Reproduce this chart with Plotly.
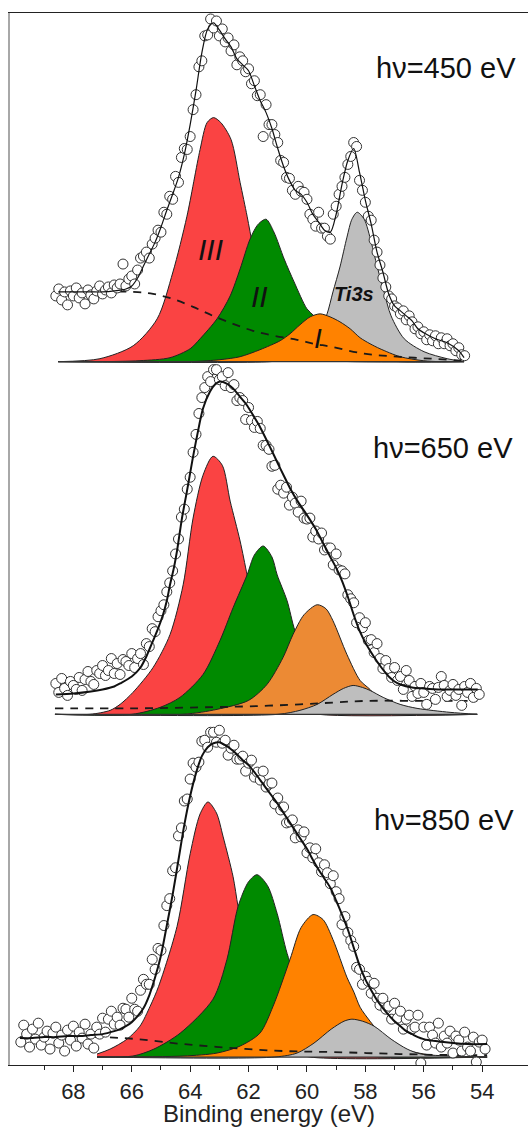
import plotly.graph_objects as go

FONT = "Arial, 'Liberation Sans', Helvetica, sans-serif"

# ---------------- Panel 1 : hv = 450 eV (intensity, a.u.) ----------------
E1 = [68.6, 68.5, 68.4, 68.3, 68.2, 68.1, 68.0, 67.9, 67.8, 67.7, 67.6, 67.5, 67.4, 67.3, 67.2, 67.1, 67.0,
      66.9, 66.8, 66.7, 66.6, 66.5, 66.4, 66.3, 66.2, 66.1, 66.0, 65.9, 65.8, 65.7, 65.6, 65.5, 65.4, 65.3,
      65.2, 65.1, 65.0, 64.9, 64.8, 64.7, 64.6, 64.5, 64.4, 64.3, 64.2, 64.1, 64.0, 63.9, 63.8, 63.7, 63.6,
      63.5, 63.4, 63.3, 63.2, 63.1, 63.0, 62.9, 62.8, 62.7, 62.6, 62.5, 62.4, 62.3, 62.2, 62.1, 62.0, 61.9,
      61.8, 61.7, 61.6, 61.5, 61.4, 61.3, 61.2, 61.1, 61.0, 60.9, 60.8, 60.7, 60.6, 60.5, 60.4, 60.3, 60.2,
      60.1, 60.0, 59.9, 59.8, 59.7, 59.6, 59.5, 59.4, 59.3, 59.2, 59.1, 59.0, 58.9, 58.8, 58.7, 58.6, 58.5,
      58.4, 58.3, 58.2, 58.1, 58.0, 57.9, 57.8, 57.7, 57.6, 57.5, 57.4, 57.3, 57.2, 57.1, 57.0, 56.9, 56.8,
      56.7, 56.6, 56.5, 56.4, 56.3, 56.2, 56.1, 56.0, 55.9, 55.8, 55.7, 55.6, 55.5, 55.4, 55.3, 55.2, 55.1,
      55.0, 54.9, 54.8, 54.7, 54.6]
I1 = [66, 73, 62, 70, 57, 71, 66, 74, 64, 69, 58, 72, 67, 63, 71, 76, 68,
      72, 75, 69, 77, 74, 78, 98, 76, 83, 86, 78, 92, 104, 106, 110, 104, 118,
      124, 132, 130, 150, 148, 166, 163, 186, 180, 205, 214, 213, 226, 253, 268, 296, 302,
      327, 328, 344, 335, 342, 327, 334, 321, 325, 312, 318, 298, 306, 302, 291, 294, 279,
      282, 267, 268, 226, 258, 238, 238, 228, 220, 202, 200, 185, 184, 172, 168, 176, 171,
      170, 163, 148, 143, 136, 150, 134, 134, 126, 123, 148, 156, 168, 176, 185, 198, 206,
      220, 216, 182, 172, 160, 146, 142, 122, 110, 97, 84, 75, 66, 63, 56, 54, 48,
      51, 42, 46, 40, 33, 35, 28, 30, 22, 27, 21, 26, 18, 24, 18, 23, 16,
      18, 11, 14, 7, 6]
FIT1_E = [68.52, 68.2, 67.8, 67.4, 67.0, 66.6, 66.2, 66.0, 65.8, 65.6, 65.4, 65.2, 65.0, 64.8, 64.6, 64.4,
          64.2, 64.0, 63.8, 63.6, 63.4, 63.2, 63.0, 62.8, 62.6, 62.4, 62.2, 62.0, 61.8, 61.6, 61.4, 61.2,
          61.0, 60.8, 60.6, 60.4, 60.2, 60.0, 59.8, 59.6, 59.4, 59.2, 59.0, 58.8, 58.6, 58.4, 58.2, 58.0,
          57.8, 57.6, 57.4, 57.2, 57.0, 56.8, 56.6, 56.4, 56.2, 56.0, 55.6, 55.2, 54.8, 54.62]
FIT1_I = [70, 70, 70, 70, 70, 71, 73, 76, 84, 96, 108, 120, 135, 152, 168, 185,
          208, 238, 272, 310, 334, 340, 333, 324, 316, 304, 298, 292, 277, 262, 250, 234,
          214, 196, 182, 172, 168, 160, 148, 140, 132, 130, 148, 178, 202, 214, 190, 162,
          138, 110, 90, 68, 56, 51, 46, 41, 33, 29, 23, 19, 11, 4]
BG1_E = [68.52, 65.96, 65.27, 64.59, 63.9, 63.22, 62.53, 61.85, 61.13, 60.34, 59.76, 59.17, 58.04, 56.91, 55.75, 54.62]
BG1_I = [70, 70, 68, 63, 55, 46, 38, 31, 26, 22, 18, 15, 8, 5, 3, 1]
RED1_E = [68.52, 67.09, 65.95, 65.13, 64.59, 64.11, 63.66, 63.42, 63.2, 62.95, 62.6, 62.29, 62.05, 61.85, 61.61,
          61.16, 60.58, 59.9, 58.9, 54.62]
RED1_I = [0, 3, 16, 43, 90, 146, 213, 240, 245, 240, 223, 180, 146, 115, 82, 38, 14, 4, 0.5, 0]
GREEN1_E = [68.52, 67.09, 65.72, 64.69, 64.0, 63.66, 63.08, 62.63, 62.29, 61.95, 61.67, 61.4, 61.13, 60.78,
            60.44, 60.0, 59.76, 59.21, 58.52, 57.84, 56.81, 54.62]
GREEN1_I = [0, 0, 1, 4, 13, 23, 43, 66, 93, 123, 138, 143, 130, 103, 80, 53, 46, 25, 10, 3, 0, 0]
ORANGE1_E = [68.52, 64.0, 62.98, 62.29, 61.61, 60.92, 60.58, 60.24, 59.89, 59.55, 59.21, 58.87, 58.52, 58.18,
             57.84, 57.5, 56.81, 56.02, 55.44, 54.62]
ORANGE1_I = [0, 0, 2, 5, 12, 21, 28, 37, 45, 48, 45, 40, 33, 24, 18, 13, 5, 1, 0, 0]
GRAY1_E = [68.52, 61.27, 60.75, 60.24, 59.89, 59.55, 59.31, 59.11, 58.87, 58.63, 58.46, 58.28, 58.04, 57.8,
           57.6, 57.36, 57.12, 56.67, 55.99, 55.2, 54.62]
GRAY1_I = [0, 0, 2, 7, 16, 32, 48, 70, 95, 125, 143, 150, 143, 120, 96, 70, 46, 23, 10, 3, 0]

# ---------------- Panel 2 : hv = 650 eV ----------------
E2 = [68.6, 68.5, 68.4, 68.3, 68.2, 68.1, 68.0, 67.9, 67.8, 67.7, 67.6, 67.5, 67.4, 67.3, 67.2, 67.1, 67.0,
      66.9, 66.8, 66.7, 66.6, 66.5, 66.4, 66.3, 66.2, 66.1, 66.0, 65.9, 65.8, 65.7, 65.6, 65.5, 65.4, 65.3,
      65.2, 65.1, 65.0, 64.9, 64.8, 64.7, 64.6, 64.5, 64.4, 64.3, 64.2, 64.1, 64.0, 63.9, 63.8, 63.7, 63.6,
      63.5, 63.4, 63.3, 63.2, 63.1, 63.0, 62.9, 62.8, 62.7, 62.6, 62.5, 62.4, 62.3, 62.2, 62.1, 62.0, 61.9,
      61.8, 61.7, 61.6, 61.5, 61.4, 61.3, 61.2, 61.1, 61.0, 60.9, 60.8, 60.7, 60.6, 60.5, 60.4, 60.3, 60.2,
      60.1, 60.0, 59.9, 59.8, 59.7, 59.6, 59.5, 59.4, 59.3, 59.2, 59.1, 59.0, 58.9, 58.8, 58.7, 58.6, 58.5,
      58.4, 58.3, 58.2, 58.1, 58.0, 57.9, 57.8, 57.7, 57.6, 57.5, 57.4, 57.3, 57.2, 57.1, 57.0, 56.9, 56.8,
      56.7, 56.6, 56.5, 56.4, 56.3, 56.2, 56.1, 56.0, 55.9, 55.8, 55.7, 55.6, 55.5, 55.4, 55.3, 55.2, 55.1,
      55.0, 54.9, 54.8, 54.7, 54.6, 54.5, 54.4, 54.3, 54.2, 54.1]
I2 = [31, 22, 36, 26, 19, 33, 29, 25, 37, 24, 35, 43, 33, 30, 44, 41, 49,
      39, 44, 56, 41, 51, 40, 55, 53, 49, 61, 47, 56, 61, 50, 71, 68, 86,
      83, 98, 104, 110, 123, 132, 144, 161, 176, 198, 206, 226, 238, 263, 281, 302, 318,
      328, 339, 334, 346, 346, 336, 339, 330, 343, 328, 331, 315, 318, 315, 296, 308, 295,
      288, 294, 287, 270, 270, 266, 249, 250, 226, 230, 222, 228, 210, 218, 212, 203, 214,
      197, 196, 197, 178, 184, 176, 182, 165, 167, 167, 150, 161, 145, 144, 141, 120, 116,
      112, 92, 97, 87, 92, 74, 75, 62, 71, 56, 46, 54, 46, 37, 47, 34, 38,
      25, 44, 34, 18, 28, 21, 31, 22, 10, 28, 26, 15, 27, 38, 29, 18, 24,
      30, 19, 25, 9, 28, 22, 31, 17, 26, 20]
FIT2_E = [68.6, 68.0, 67.4, 67.0, 66.6, 66.4, 66.0, 65.7, 65.5, 65.27, 65.1, 64.93, 64.8, 64.69, 64.55,
          64.45, 64.28, 64.11, 63.93, 63.76, 63.56, 63.32, 63.15, 62.98, 62.75, 62.53, 62.3, 62.05, 61.8,
          61.6, 61.26, 61.0, 60.8, 60.58, 60.3, 60.0, 59.7, 59.45, 59.2, 59.0, 58.8, 58.6, 58.4, 58.2,
          58.0, 57.8, 57.6, 57.4, 57.2, 57.0, 56.8, 56.4, 56.0, 55.4, 54.8, 54.15]
FIT2_I = [20, 21, 23, 25, 28, 31, 38, 47, 58, 74, 86, 100, 114, 130, 148,
          164, 197, 224, 254, 280, 307, 324, 331, 334, 332, 327, 319, 310, 298,
          288, 268, 252, 240, 227, 213, 200, 186, 172, 158, 147, 134, 118, 100, 84,
          72, 62, 53, 45, 38, 33, 30, 27, 26, 25, 25, 25]
BG2_E = [68.63, 66.0, 63.66, 62.0, 60.24, 59.0, 57.94, 56.0, 54.17]
BG2_I = [6, 6, 7, 8, 10, 12, 13.5, 13.5, 13.5]
RED2_E = [68.63, 67.43, 66.74, 66.4, 65.96, 65.27, 64.69, 64.24, 63.9, 63.56, 63.22, 62.9, 62.63, 62.29,
          62.05, 61.8, 61.5, 61.0, 60.4, 59.6, 54.17]
RED2_I = [0, 0, 4, 10, 22, 47, 80, 130, 197, 240, 259, 250, 214, 174, 140, 105, 65, 25, 6, 0, 0]
GREEN2_E = [68.63, 66.0, 65.03, 64.35, 63.56, 62.98, 62.53, 62.05, 61.8, 61.5, 61.2, 61.02, 60.68, 60.41,
            60.0, 59.5, 58.87, 57.84, 56.81, 54.17]
GREEN2_I = [0, 0, 7, 17, 40, 74, 107, 140, 160, 169, 158, 140, 114, 84, 58, 30, 10, 2, 0, 0]
ORANGE2_E = [68.63, 64.24, 63.08, 62.0, 61.37, 60.82, 60.48, 60.1, 59.65, 59.35, 59.11, 58.63, 58.18, 57.84,
             57.39, 56.81, 56.23, 54.17]
ORANGE2_I = [0, 0, 5, 14, 30, 57, 80, 100, 110, 106, 94, 60, 34, 25, 10, 4, 0, 0]
GRAY2_E = [68.63, 61.0, 60.24, 59.65, 59.11, 58.75, 58.42, 58.1, 57.84, 57.39, 56.81, 56.23, 55.1, 54.17]
GRAY2_I = [0, 0, 4, 10, 20, 26, 29, 27, 24, 17, 10, 6, 2, 0]

# ---------------- Panel 3 : hv = 850 eV ----------------
E3 = [69.8, 69.7, 69.6, 69.5, 69.4, 69.3, 69.2, 69.1, 69.0, 68.9, 68.8, 68.7, 68.6, 68.5, 68.4, 68.3, 68.2,
      68.1, 68.0, 67.9, 67.8, 67.7, 67.6, 67.5, 67.4, 67.3,
      67.2, 67.1, 67.0, 66.9, 66.8, 66.7, 66.6, 66.5, 66.4, 66.3, 66.2, 66.1, 66.0, 65.9, 65.8, 65.7, 65.6,
      65.5, 65.4, 65.3,
      65.2, 65.1, 65.0, 64.9, 64.8, 64.7, 64.6, 64.5, 64.4, 64.3, 64.2, 64.1, 64.0, 63.9, 63.8, 63.7, 63.6,
      63.5, 63.4, 63.3,
      63.2, 63.1, 63.0, 62.9, 62.8, 62.7, 62.6, 62.5, 62.4, 62.3, 62.2, 62.1, 62.0, 61.9, 61.8, 61.7, 61.6,
      61.5, 61.4, 61.3,
      61.2, 61.1, 61.0, 60.9, 60.8, 60.7, 60.6, 60.5, 60.4, 60.3, 60.2, 60.1, 60.0, 59.9, 59.8, 59.7, 59.6,
      59.5, 59.4, 59.3,
      59.2, 59.1, 59.0, 58.9, 58.8, 58.7, 58.6, 58.5, 58.4, 58.3, 58.2, 58.1, 58.0, 57.9, 57.8, 57.7, 57.6,
      57.5, 57.4, 57.3,
      57.2, 57.1, 57.0, 56.9, 56.8, 56.7, 56.6, 56.5, 56.4, 56.3, 56.2, 56.1, 56.0, 55.9, 55.8, 55.7, 55.6,
      55.5, 55.4, 55.3,
      55.2, 55.1, 55.0, 54.9, 54.8, 54.7, 54.6, 54.5, 54.4, 54.3, 54.2, 54.1, 54.0, 53.9]
I3 = [15, 32, 23, 10, 28, 18, 34, 12, 20, 26, 8, 24, 30, 14, 22, 6, 27,
      17, 31, 11, 25, 19, 33, 13, 23, 9,
      30, 23, 39, 25, 38, 46, 33, 40, 32, 49, 48, 40, 59, 48, 46, 67, 78,
      73, 73, 98,
      88, 109, 107, 132, 152, 159, 187, 190, 222, 230, 257, 259, 279, 295, 291, 296, 317,
      318, 311, 326,
      326, 316, 328, 315, 318, 303, 310, 313, 299, 299, 302, 287, 295, 298, 281, 286, 278,
      287, 271, 274,
      275, 254, 260, 248, 251, 235, 236, 238, 220, 228, 221, 226, 205, 210, 200, 209, 195,
      186, 193, 185,
      174, 182, 166, 159, 133, 141, 125, 117, 111, 90, 88, 73, 81, 76, 64, 74, 59,
      52, 59, 48,
      51, 38, 54, 39, 46, 28, 38, 42, 28, 30, 42, -6, 30, 12, 30, 22, 14,
      34, 10, 21,
      14, 26, 4, 21, 17, 6, 25, 10, 6, 20, -5, 15, 17, 8]
FIT3_E = [69.83, 69.4, 69.0, 68.6, 68.2, 67.8, 67.4, 67.0, 66.6, 66.4, 66.2, 66.0, 65.8, 65.6, 65.4, 65.2,
          65.0, 64.8, 64.6, 64.4, 64.2, 64.0, 63.8, 63.6, 63.4, 63.2, 63.0, 62.8, 62.6, 62.4, 62.2, 62.0,
          61.8, 61.6, 61.4, 61.2, 61.0, 60.8, 60.6, 60.4, 60.2, 60.0, 59.8, 59.6, 59.4, 59.2, 59.0, 58.8,
          58.6, 58.4, 58.2, 58.0, 57.8, 57.6, 57.4, 57.2, 57.0, 56.8, 56.6, 56.4, 56.2, 56.0, 55.6, 55.0,
          54.5, 53.83]
FIT3_I = [19, 19, 20, 20, 21, 21, 22, 23, 26, 28, 31, 35, 41, 49, 62, 80,
          102, 132, 163, 198, 233, 262, 285, 302, 311, 315, 316, 313, 309, 304, 298, 293,
          286, 278, 270, 262, 254, 245, 236, 227, 218, 209, 198, 188, 179, 170, 157, 143,
          128, 110, 92, 78, 67, 57, 49, 42, 36, 31, 26, 23, 20, 18, 16, 14,
          13, 13]
BG3_E = [69.83, 67.09, 65.82, 64.24, 62.53, 60.82, 59.11, 56.81, 55.1, 53.83]
BG3_I = [20, 20, 18, 13, 9, 6, 5, 3, 2, 2]
RED3_E = [67.19, 66.74, 66.16, 65.72, 65.37, 65.08, 64.45, 64.0, 63.66, 63.39, 63.1, 62.87, 62.53, 62.36,
          62.12, 61.78, 61.26, 60.58, 59.89, 53.83]
RED3_I = [3, 8, 18, 31, 51, 71, 131, 204, 244, 256, 245, 221, 181, 151, 115, 70, 28, 6, 0, 0]
GREEN3_E = [67.19, 65.96, 65.24, 64.34, 63.22, 62.74, 62.36, 62.0, 61.71, 61.35, 61.02, 60.68, 60.24, 59.72,
            59.21, 58.52, 57.5, 53.83]
GREEN3_I = [0, 1, 8, 24, 58, 98, 151, 176, 183, 172, 144, 104, 68, 38, 18, 5, 0, 0]
ORANGE3_E = [67.19, 64.24, 63.08, 62.29, 61.61, 61.16, 60.58, 60.2, 59.79, 59.45, 59.11, 58.63, 58.39, 58.18,
             57.84, 57.5, 56.98, 56.47, 55.78, 55.1, 53.83]
ORANGE3_I = [0, 1, 4, 11, 24, 51, 98, 130, 143, 138, 118, 80, 65, 50, 36, 24, 12, 6, 2, 0, 0]
GRAY3_E = [67.19, 61.1, 60.34, 59.76, 59.17, 58.73, 58.46, 58.1, 57.7, 57.12, 56.57, 56.09, 55.06, 53.83]
GRAY3_I = [0, 0, 4, 14, 28, 36, 38, 36, 31, 18, 8, 3, 1, 0]

# ---------------- axis ----------------
X_TICKS = [68, 66, 64, 62, 60, 58, 56, 54]
X_MINOR = [69, 67, 65, 63, 61, 59, 57, 55]
X_RANGE = [70.17, 52.43]
X_TITLE = "Binding energy (eV)"

RED = "#FA4343"
GREEN = "#008A00"
ORANGE = "#FF8200"
ORANGE2 = "#EC8A34"
GRAY = "#BEBEBE"

fig = go.Figure()


def comp(xs, ys, color, yref, lw=1.0):
    fig.add_trace(go.Scatter(x=xs, y=ys, yaxis=yref, mode="lines", fill="tozeroy",
                             fillcolor=color, line=dict(color="#222222", width=lw, shape="spline", smoothing=0.8),
                             hoverinfo="skip", showlegend=False))


def panel(yref, comps, bg, data, fit, fit_w, base_x):
    for xs, ys, c in comps:
        comp(xs, ys, c, yref)
    fig.add_trace(go.Scatter(x=base_x, y=[0, 0], yaxis=yref, mode="lines",
                             line=dict(color="#333333", width=1.2), showlegend=False, hoverinfo="skip"))
    fig.add_trace(go.Scatter(x=bg[0], y=bg[1], yaxis=yref, mode="lines",
                             line=dict(color="#1a1a1a", width=1.8, dash="8px,7px", shape="spline"),
                             showlegend=False, hoverinfo="skip"))
    fig.add_trace(go.Scatter(x=data[0], y=data[1], yaxis=yref, mode="markers",
                             marker=dict(symbol="circle", size=10, color="white",
                                         line=dict(color="#333333", width=1)),
                             showlegend=False))
    fig.add_trace(go.Scatter(x=fit[0], y=fit[1], yaxis=yref, mode="lines",
                             line=dict(color="#111111", width=fit_w, shape="spline", smoothing=0.8),
                             showlegend=False, hoverinfo="skip"))


# bottom panel (850 eV) on y, middle (650 eV) on y2, top (450 eV) on y3
panel("y", [(RED3_E, RED3_I, RED), (GREEN3_E, GREEN3_I, GREEN), (ORANGE3_E, ORANGE3_I, ORANGE),
            (GRAY3_E, GRAY3_I, GRAY)],
      (BG3_E, BG3_I), (E3, I3), (FIT3_E, FIT3_I), 2.0, [RED3_E[0], RED3_E[-1]])
panel("y2", [(RED2_E, RED2_I, RED), (GREEN2_E, GREEN2_I, GREEN), (ORANGE2_E, ORANGE2_I, ORANGE2),
             (GRAY2_E, GRAY2_I, GRAY)],
      (BG2_E, BG2_I), (E2, I2), (FIT2_E, FIT2_I), 2.0, [RED2_E[0], RED2_E[-1]])
panel("y3", [(RED1_E, RED1_I, RED), (GREEN1_E, GREEN1_I, GREEN), (GRAY1_E, GRAY1_I, GRAY),
             (ORANGE1_E, ORANGE1_I, ORANGE)],
      (BG1_E, BG1_I), (E1, I1), (FIT1_E, FIT1_I), 1.2, [RED1_E[0], RED1_E[-1]])

ann = []
for txt, x, y, yref, size in [
    ("hν=450 eV", 55.24, 295, "y3", 29),
    ("hν=650 eV", 55.34, 267, "y2", 29),
    ("hν=850 eV", 55.30, 238, "y", 29),
]:
    ann.append(dict(text=txt, x=x, y=y, xref="x", yref=yref, showarrow=False,
                    font=dict(family=FONT, size=size, color="#111111")))
for txt, x, y, size in [
    ("<i>III</i>", 63.31, 113, 30),
    ("<i>II</i>", 61.64, 65, 30),
    ("<i>I</i>", 59.62, 23, 28),
    ("<b><i>Ti3s</i></b>", 58.39, 68, 20),
]:
    ann.append(dict(text=txt, x=x, y=y, xref="x", yref="y3", showarrow=False,
                    font=dict(family=FONT, size=size, color="#111111")))

fig.update_layout(
    width=528, height=1127,
    margin=dict(l=10, r=0, t=13, b=58),
    paper_bgcolor="white", plot_bgcolor="white",
    font=dict(family=FONT, color="#222222"),
    showlegend=False,
    annotations=ann,
    xaxis=dict(range=X_RANGE, tickmode="array", tickvals=X_TICKS, ticks="outside", ticklen=6,
               tickwidth=1.2, tickcolor="#222222", showline=True, linecolor="#222222", linewidth=1.4,
               mirror=True, showgrid=False, zeroline=False,
               tickfont=dict(family=FONT, size=22, color="#222222"),
               minor=dict(tickmode="array", tickvals=X_MINOR, ticks="outside", ticklen=4,
                          tickcolor="#222222", tickwidth=1.2, showgrid=False),
               title=dict(text=X_TITLE, font=dict(family=FONT, size=24, color="#222222"), standoff=7)),
    yaxis=dict(range=[-8, 1048], showline=True, linecolor="#A8A8A8", linewidth=2,
               showticklabels=False, ticks="", showgrid=False, zeroline=False),
    yaxis2=dict(range=[-352, 704], overlaying="y", visible=False),
    yaxis3=dict(range=[-706, 350], overlaying="y", visible=False),
)

fig.write_html("out.html", config={"displayModeBar": False},
               post_script="document.body.style.margin='0px';document.body.style.padding='0px';"
                           "document.body.style.overflow='hidden';")
